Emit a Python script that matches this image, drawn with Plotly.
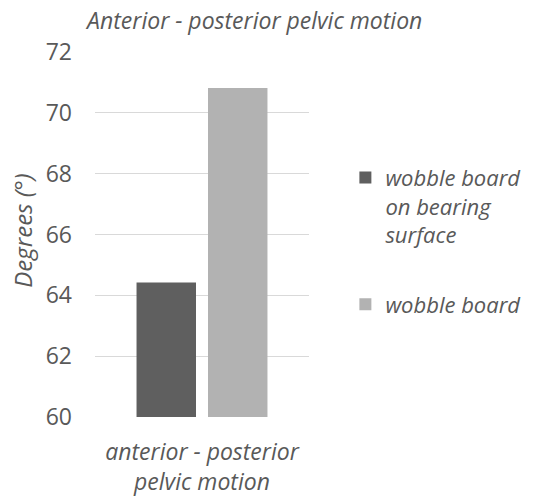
import plotly.graph_objects as go

categories = ["anterior - posterior<br>pelvic motion"]
series_names = ["wobble board<br>on bearing<br>surface", "wobble board"]
series_values = [[64.42], [70.82]]
series_colors = ["#5f5f5f", "#b2b2b2"]
y_ticks = [60, 62, 64, 66, 68, 70, 72]

FONT = "Open Sans"
TXT = "#595959"
FS = 23

fig = go.Figure()
for i, (name, vals, col) in enumerate(zip(series_names, series_values, series_colors)):
    fig.add_trace(go.Bar(x=categories, y=vals, name="<i>" + name + "</i>", marker_color=col,
                         marker_line_width=0, legendgroup="g%d" % i))

fig.update_layout(
    width=525, height=489,
    margin=dict(l=87, r=224, t=44, b=80, autoexpand=False),
    paper_bgcolor="white", plot_bgcolor="white",
    barmode="group", bargap=0.332, bargroupgap=0.168,
    title=dict(text="<i>Anterior - posterior pelvic motion</i>", x=0.47, xanchor="center",
               xref="container", y=0.974, yref="container", yanchor="middle",
               font=dict(family=FONT, size=FS, color=TXT)),
    font=dict(family=FONT, color=TXT),
    legend=dict(x=1.17, xanchor="left", y=0.713, yanchor="top", valign="top",
                font=dict(family=FONT, size=22, color=TXT), tracegroupgap=38,
                itemwidth=30),
    showlegend=True,
)
fig.update_xaxes(showgrid=False, showline=False, ticks="", automargin=False,
                 tickfont=dict(family=FONT, size=FS, color=TXT),
                 tickprefix="<i>", ticksuffix="</i>", ticklabelstandoff=19)
fig.update_yaxes(range=[60, 72], tickvals=y_ticks, showgrid=True, gridcolor="#d9d9d9",
                 gridwidth=1, zeroline=False, showline=False, ticks="", automargin=False,
                 tickfont=dict(family=FONT, size=FS, color=TXT), ticklabelstandoff=22)
fig.add_annotation(text="<i>Degrees (°)</i>", xref="paper", yref="paper",
                   x=-0.34, y=0.511,
                   textangle=-90, showarrow=False, xanchor="center", yanchor="middle",
                   font=dict(family=FONT, size=24, color=TXT))
fig.write_html("out.html")
